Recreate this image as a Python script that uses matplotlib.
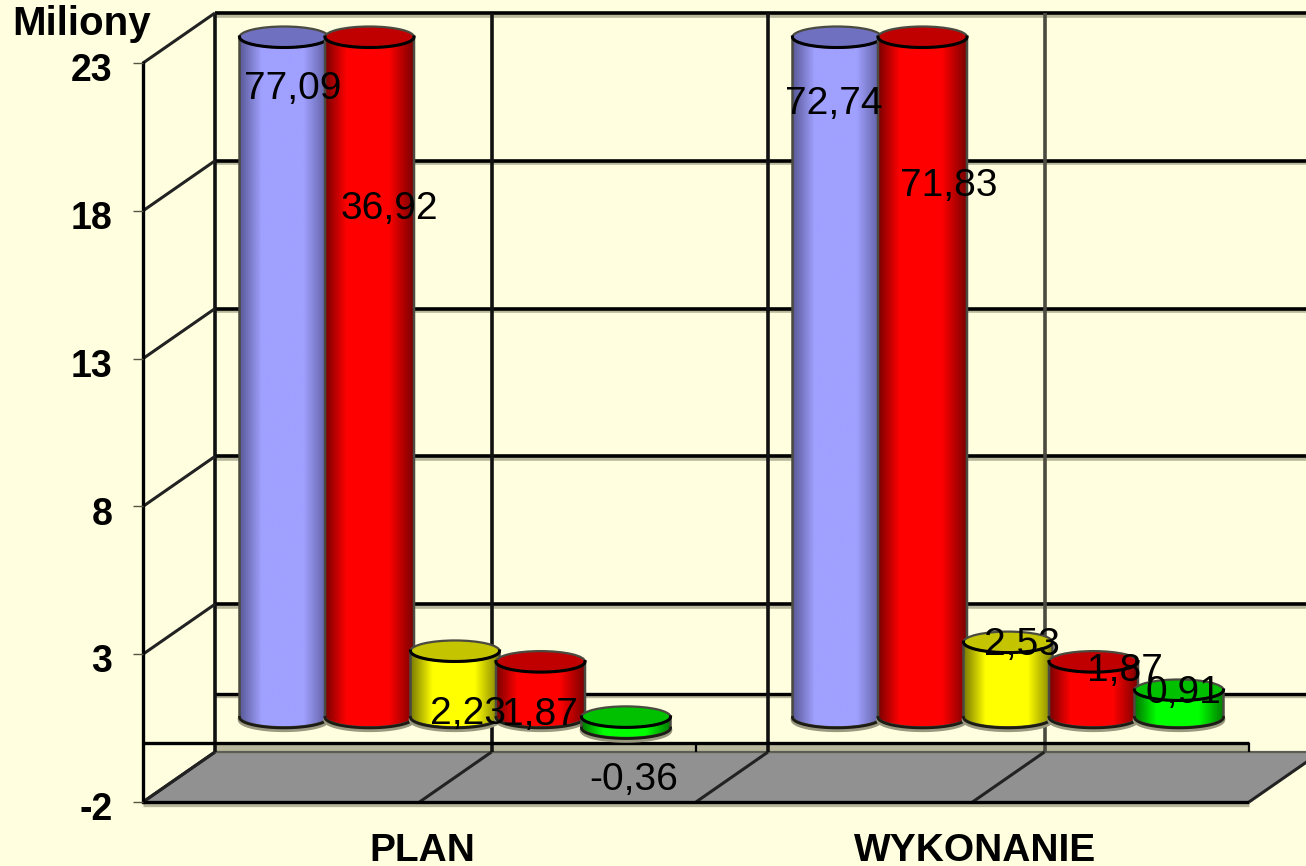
#!/usr/bin/env python3
"""3D-look cylinder chart: plan vs wykonanie, in millions."""

import numpy as np
import matplotlib
matplotlib.use("Agg")
import matplotlib.pyplot as plt
from matplotlib.colors import LinearSegmentedColormap
from matplotlib.patches import Ellipse, PathPatch, Polygon
from matplotlib.path import Path
from matplotlib.transforms import ScaledTranslation

plt.rcParams["font.family"] = ["Liberation Sans", "DejaVu Sans"]

# ── Data ──────────────────────────────────────────────────────────────────────

categories = ["PLAN", "WYKONANIE"]
plan_values = [77.09, 36.92, 2.23, 1.87, -0.36]
wykonanie_values = [72.74, 71.83, 2.53, 1.87, 0.91]
y_ticks = [-2, 3, 8, 13, 18, 23]
y_unit = "Miliony"

# label offsets from the top of each cylinder, pixels
plan_label_offsets = [(9, -52), (20, -172), (13, -63), (-1, -53), (8, -63)]
wykonanie_label_offsets = [(-3, -67), (26, -149), (14, -3), (31, -9), (4, -3)]

# (edge, main, cap)
bar_colors = [
    ("#5a5a9a", "#a0a0ff", "#7070c0"),
    ("#7a0000", "#ff0000", "#c00000"),
    ("#7d7d00", "#ffff00", "#c4c400"),
    ("#7a0000", "#ff0000", "#c00000"),
    ("#007a00", "#00ff00", "#00c000"),
]

# ── Layout (pixels of the 1306x866 figure) ────────────────────────────────────

W, H = 1306, 866
X0, Y_BOTTOM = 143, 802
PX_PER_CAT = 553.0
PX_PER_UNIT = 29.56
Y_MIN, Y_MAX = y_ticks[0], y_ticks[-1]
DX = 72 / PX_PER_CAT
DY = 50 / PX_PER_UNIT
SHADOW = "#b8b79c"
BG = "#ffffe0"

BAR_START = 141 / PX_PER_CAT
BAR_STEP = 85.5 / PX_PER_CAT
BAR_RX = 44.5 / PX_PER_CAT
BAR_RY = 10.5 / PX_PER_UNIT
BAR_BASE = 26 / PX_PER_UNIT


def grid_line(ax, xs, ys, color="black", lw=2.4, shadow=True, z=1):
    if shadow:
        ax.plot(xs, np.array(ys) - 2.5 / PX_PER_UNIT, color=SHADOW, lw=lw,
                zorder=z - 0.1, clip_on=False, solid_capstyle="butt")
    ax.plot(xs, ys, color=color, lw=lw, zorder=z, clip_on=False,
            solid_capstyle="butt")


def draw_cylinder(ax, cx, value, colors, z):
    edge, main, cap = colors
    top = BAR_BASE + max(value, 0)
    bottom = BAR_BASE + min(value, 0)

    theta = np.linspace(np.pi, 2 * np.pi, 60)
    arc_x = cx + BAR_RX * np.cos(theta)
    arc_y = bottom + BAR_RY * np.sin(theta)
    verts = list(zip(arc_x, arc_y)) + [(cx + BAR_RX, top), (cx - BAR_RX, top)]
    verts.append(verts[0])
    body = Path(verts, closed=True)

    # soft shadow under the base
    ax.plot(arc_x, arc_y - 3 / PX_PER_UNIT, color="#9a9980", lw=2.5, zorder=z - 0.1)

    cmap = LinearSegmentedColormap.from_list(
        "cyl", [(0, edge), (0.24, main), (0.72, main), (1, edge)]
    )
    grad = np.linspace(0, 1, 128).reshape(1, -1)
    im = ax.imshow(grad, cmap=cmap, aspect="auto", zorder=z,
                   extent=(cx - BAR_RX, cx + BAR_RX, bottom - BAR_RY, top))
    im.set_clip_path(PathPatch(body, transform=ax.transData))
    ax.add_patch(PathPatch(body, fc="none", ec="#4a4a40", lw=1.8, zorder=z + 0.1))
    ax.plot(arc_x, arc_y - 0.5 / PX_PER_UNIT, color="#1c1c14", lw=2.0, zorder=z + 0.1)

    ax.add_patch(Ellipse((cx, top), 2 * BAR_RX, 2 * BAR_RY, fc=cap, ec="#4a4a40",
                         lw=1.6, zorder=z + 0.2))
    cap_x = cx + BAR_RX * np.cos(theta)
    cap_y = top + BAR_RY * np.sin(theta)
    ax.plot(cap_x, cap_y, color="black", lw=2.2, zorder=z + 0.3)


def main():
    fig = plt.figure(figsize=(W / 100, H / 100), dpi=100, facecolor=BG)
    ax = fig.add_axes([X0 / W, (H - Y_BOTTOM) / H, (W - X0) / W, Y_BOTTOM / H])
    ax.set_facecolor(BG)
    x_max = (W - X0) / PX_PER_CAT
    y_top = Y_BOTTOM / PX_PER_UNIT + Y_MIN

    # floor
    n_cat = len(categories)
    ax.add_patch(Polygon(
        [(0, Y_MIN), (n_cat, Y_MIN), (n_cat + DX, Y_MIN + DY), (DX, Y_MIN + DY)],
        fc="#919191", ec="none", zorder=0.5, clip_on=True,
    ))

    # back wall and side wall
    for tick in y_ticks:
        if tick == Y_MIN:
            grid_line(ax, [DX, x_max], [tick + DY, tick + DY], color="#5c5c50",
                      lw=1.6, shadow=False, z=1)
        else:
            grid_line(ax, [DX, x_max], [tick + DY, tick + DY], lw=2.6, z=1)
        grid_line(ax, [0, DX], [tick, tick + DY], shadow=False, lw=2.2, color="#222222", z=1.2)
    grid_line(ax, [DX, x_max], [DY - 0.03, DY - 0.03], lw=2.4, z=1)
    for k in np.arange(0, n_cat + 0.5, 0.5):
        color = "#4a4a40" if k == 1.5 else "#111111"
        if k < n_cat:
            grid_line(ax, [k + DX, k + DX], [Y_MIN + DY, Y_MAX + DY], color=color,
                      shadow=False, lw=2.6, z=1.1)
        grid_line(ax, [k, k + DX], [Y_MIN, Y_MIN + DY], color="#222222",
                  shadow=False, lw=2.2, z=1.2)

    # front line at zero, with its ticks
    ax.add_patch(Polygon([(DX, 0), (n_cat, 0), (n_cat, Y_MIN + DY), (DX, Y_MIN + DY)],
                         fc=SHADOW, ec="none", zorder=0.9))
    grid_line(ax, [0, n_cat], [0, 0], shadow=False, lw=2.4, z=1.3)
    for k in range(1, n_cat + 1):
        grid_line(ax, [k, k], [0, Y_MIN + DY], shadow=False, lw=1.6, z=1.3)
    grid_line(ax, [0, n_cat], [Y_MIN, Y_MIN], lw=2.4, z=1.3)

    # cylinders; tall ones stop at the top of the scale
    for c, (values, offsets) in enumerate(zip(
        [plan_values, wykonanie_values],
        [plan_label_offsets, wykonanie_label_offsets],
    )):
        for i, value in enumerate(values):
            cx = c + BAR_START + i * BAR_STEP
            shown = min(value, Y_MAX)
            draw_cylinder(ax, cx, shown, bar_colors[i], 3 + i * 0.5)
            ax.annotate(
                f"{value:.2f}".replace(".", ","),
                (cx, BAR_BASE + max(shown, 0)), xytext=offsets[i],
                textcoords="offset pixels", ha="center", va="center",
                fontsize=28, color="black", zorder=10, annotation_clip=False,
            )

    ax.set_xlim(0, x_max)
    ax.set_ylim(Y_MIN, y_top)

    # axes
    for side in ("top", "right", "bottom"):
        ax.spines[side].set_visible(False)
    ax.spines["left"].set_bounds(Y_MIN, Y_MAX)
    ax.spines["left"].set_linewidth(2.4)
    ax.spines["left"].set_zorder(1.3)
    ax.set_yticks(y_ticks)
    ax.set_yticklabels([str(t) for t in y_ticks], fontsize=27, fontweight="bold")
    ax.tick_params(axis="y", length=7, width=1, color="#555544", pad=15)
    shift_down = ScaledTranslation(0, -3 / 72, fig.dpi_scale_trans)
    for lab in ax.get_yticklabels():
        lab.set_transform(lab.get_transform() + shift_down)
    ax.set_xticks(np.arange(n_cat) + 0.5)
    ax.set_xticklabels(categories, fontsize=28, fontweight="bold")
    ax.tick_params(axis="x", length=0, pad=22)
    shift_right = ScaledTranslation(3 / 100, 0, fig.dpi_scale_trans)
    for lab in ax.get_xticklabels():
        lab.set_transform(lab.get_transform() + shift_right)

    fig.text(12 / W, 1 - 24 / H, y_unit, fontsize=29, fontweight="bold",
             ha="left", va="center")

    fig.savefig("out.png", dpi=100, facecolor=BG)
    plt.close(fig)


if __name__ == "__main__":
    main()
